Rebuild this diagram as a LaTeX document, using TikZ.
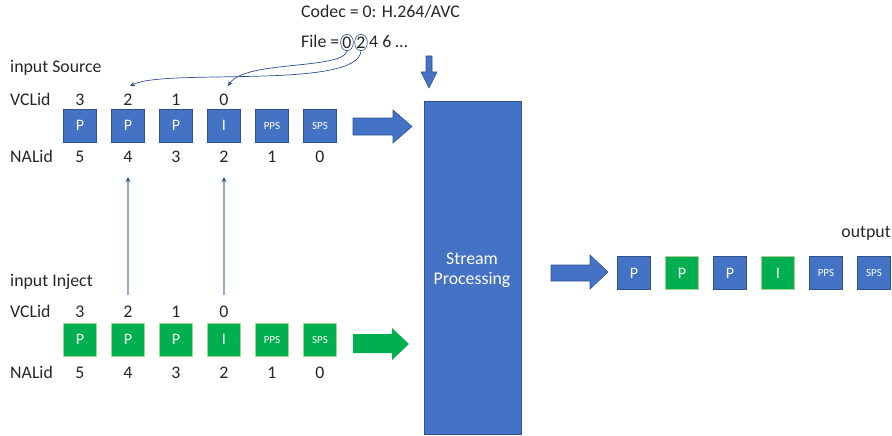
\documentclass[tikz,border=0pt]{standalone}
\usepackage{fontspec}
\setmainfont{Carlito}
\usetikzlibrary{arrows.meta,shapes.geometric}
\definecolor{pblue}{HTML}{4472C4}
\definecolor{pbord}{HTML}{2F528F}
\definecolor{pgreen}{HTML}{00B050}
\definecolor{gbord}{HTML}{A9D18E}
\definecolor{thinb}{HTML}{8FAADC}
\definecolor{txt}{HTML}{262626}
\begin{document}
\begin{tikzpicture}[x=1pt,y=-1pt,
  lbl/.style={font=\fontsize{17.8}{20}\selectfont, inner sep=0pt, text=txt},
  num/.style={lbl, anchor=base},
  nal/.style={draw=pbord, fill=pblue, line width=0.7pt, minimum width=33pt, minimum height=33pt, inner sep=0pt, text=white, font=\fontsize{16}{18}\selectfont},
  nalg/.style={nal, draw=gbord, fill=pgreen},
  tiny/.style={font=\fontsize{11}{12}\selectfont},
  blockb/.style={fill=pblue, draw=pbord, line width=0.6pt},
  thin/.style={draw=pbord, line width=0.7pt, -{Stealth[length=5pt,width=4.5pt]}},
  vthin/.style={draw=thinb, line width=1.1pt, -{Stealth[length=5pt,width=5pt,color=pbord]}},
  circ/.style={ellipse, draw=pbord, line width=0.6pt, inner sep=0pt, minimum width=11pt, minimum height=14pt, lbl}
]
\useasboundingbox (0,0) rectangle (892,436);

% header texts
\node[lbl, anchor=base west] (codec) at (301,18) {Codec = 0: H.264/AVC};
\node[lbl, anchor=base west] (file) at (301,48) {File =};
\node[circ] (c0) at (347,42.5) {0};
\node[circ] (c2) at (361,42.5) {2};
\node[lbl, anchor=base west] (rest) at (369,48) {4 6 …};

% input source
\node[lbl, anchor=base west] (insrc) at (10,73) {input Source};
\node[lbl, anchor=base west] (vcl1) at (10,106) {VCLid};
\node[lbl, anchor=base west] (nal1) at (10,162) {NALid};
\foreach \i/\x/\t/\v/\n in {a/80/P/3/5, b/128/P/2/4, c/176/P/1/3, d/224/I/0/2}{
  \node[nal] (s\i) at (\x,125.5) {\t};
  \node[num] (sv\i) at (\x,106) {\v};
  \node[num] (sn\i) at (\x,162) {\n};
}
\node[nal, tiny] (se) at (272,125.5) {PPS};
\node[num] (sne) at (272,162) {1};
\node[nal, tiny] (sf) at (320,125.5) {SPS};
\node[num] (snf) at (320,162) {0};

% input inject
\node[lbl, anchor=base west] (ininj) at (10,286) {input Inject};
\node[lbl, anchor=base west] (vcl2) at (10,317) {VCLid};
\node[lbl, anchor=base west] (nal2) at (10,378) {NALid};
\foreach \i/\x/\t/\v/\n in {a/80/P/3/5, b/128/P/2/4, c/176/P/1/3, d/224/I/0/2}{
  \node[nalg] (j\i) at (\x,339.5) {\t};
  \node[num] (jv\i) at (\x,317) {\v};
  \node[num] (jn\i) at (\x,378) {\n};
}
\node[nalg, tiny] (je) at (272,339.5) {PPS};
\node[num] (jne) at (272,378) {1};
\node[nalg, tiny] (jf) at (320,339.5) {SPS};
\node[num] (jnf) at (320,378) {0};

% stream processing
\node[draw=pbord, fill=pblue, line width=0.6pt, minimum width=97pt, minimum height=333pt, anchor=north west, inner sep=0pt] (sp) at (424,101) {};
\node[num, text=white] (sptxt1) at (472,264.5) {Stream};
\node[num, text=white] (sptxt2) at (472,284) {Processing};

% output
\node[lbl, anchor=base east] (outl) at (891,237) {output};
\node[nal] (o1) at (634,273) {P};
\node[nalg] (o2) at (682,273) {P};
\node[nal] (o3) at (730,273) {P};
\node[nalg] (o4) at (778,273) {I};
\node[nal, tiny] (o5) at (826,273) {PPS};
\node[nal, tiny] (o6) at (874,273) {SPS};

% block arrows
\draw[blockb] (353,118) -- (393,118) -- (393,110) -- (412,126.5) -- (393,143) -- (393,135) -- (353,135) -- cycle;
\fill[pgreen] (353,334) -- (392,334) -- (392,328) -- (409,344) -- (392,360) -- (392,353) -- (353,353) -- cycle;
\draw[blockb] (551,265) -- (590,265) -- (590,255) -- (608,272) -- (590,289) -- (590,281) -- (551,281) -- cycle;
\draw[blockb] (426,56) -- (432,56) -- (432,72) -- (437,72) -- (429,88) -- (421,72) -- (426,72) -- cycle;

% file-to-frame curves
\coordinate (t0) at (228,86);
\coordinate (t2) at (130,86);
\draw[thin] (c0.south) .. controls (342,70) and (245,60) .. (t0);
\draw[thin] (c2.south) .. controls (358,90) and (165,68) .. (t2);

% inject-to-source arrows
\draw[vthin, shorten <=10pt, shorten >=15pt] (jvb.north) -- (snb.south);
\draw[vthin, shorten <=10pt, shorten >=15pt] (jvd.north) -- (snd.south);
\end{tikzpicture}
\end{document}
